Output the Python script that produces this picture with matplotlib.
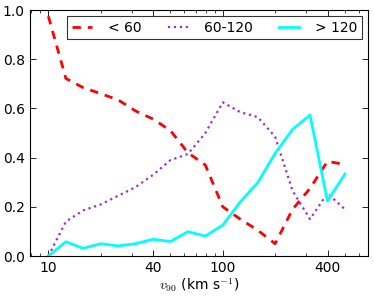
import numpy as np
import matplotlib
matplotlib.use("Agg")
import matplotlib.pyplot as plt
from matplotlib.ticker import FixedLocator, FixedFormatter, LogLocator, NullFormatter

plt.rcParams['mathtext.fontset'] = 'cm'

# v90 bins (km/s), 0.1 dex steps
v90 = [10.0, 12.6, 15.8, 20.0, 25.1, 31.6, 39.8, 50.1, 63.1,
       79.4, 100.0, 125.9, 158.5, 199.5, 251.2, 316.2, 398.1, 501.2]

# fraction per group
frac_lt60 = [0.975, 0.722, 0.685, 0.660, 0.635, 0.590, 0.557, 0.510, 0.420,
             0.370, 0.200, 0.150, 0.105, 0.050, 0.190, 0.275, 0.385, 0.372]
frac_60_120 = [0.0, 0.140, 0.185, 0.210, 0.245, 0.280, 0.330, 0.390, 0.415,
               0.500, 0.625, 0.585, 0.565, 0.485, 0.265, 0.150, 0.255, 0.190]
frac_gt120 = [0.0, 0.058, 0.031, 0.050, 0.041, 0.050, 0.068, 0.059, 0.099,
              0.081, 0.126, 0.220, 0.298, 0.417, 0.515, 0.573, 0.224, 0.333]

labels = ["< 60", "60-120", "> 120"]
xticks = [10, 40, 100, 400]
yticks = [0.0, 0.2, 0.4, 0.6, 0.8, 1.0]

fig = plt.figure(figsize=(3.74, 2.97), dpi=100)
ax = fig.add_axes([0.079, 0.138, 0.905, 0.828])

ax.plot(v90, frac_lt60, color="red", ls="--", lw=2, dashes=(3, 2.5), label=labels[0])
ax.plot(v90, frac_60_120, color="darkorchid", ls=":", lw=1.6, label=labels[1])
ax.plot(v90, frac_gt120, color="cyan", ls="-", lw=2, label=labels[2])

ax.set_xscale("log")
ax.set_xlim(7.8, 680)
ax.set_ylim(0, 1.0)

ax.xaxis.set_major_locator(FixedLocator(xticks))
ax.xaxis.set_major_formatter(FixedFormatter([str(t) for t in xticks]))
ax.xaxis.set_minor_locator(LogLocator(base=10, subs=np.arange(2, 10)))
ax.xaxis.set_minor_formatter(NullFormatter())
ax.set_yticks(yticks)
ax.set_yticklabels(["%.1f" % t for t in yticks])

ax.tick_params(which="both", direction="in", top=True, right=True, labelsize=10)
ax.tick_params(which="major", length=4, width=0.6)
ax.tick_params(which="minor", length=2, width=0.5)
for s in ax.spines.values():
    s.set_linewidth(0.8)

ax.set_xlabel(r"$v_{90}$ (km s$^{-1}$)", fontsize=10, labelpad=1)

leg = ax.legend(loc="upper right", ncol=3, fontsize=10, frameon=True, fancybox=False,
                handlelength=1.45, handletextpad=1.15, columnspacing=1.9,
                borderpad=0.3, borderaxespad=0.45)
leg.get_frame().set_edgecolor("black")
leg.get_frame().set_linewidth(0.8)

fig.savefig("out.png", dpi=100)
